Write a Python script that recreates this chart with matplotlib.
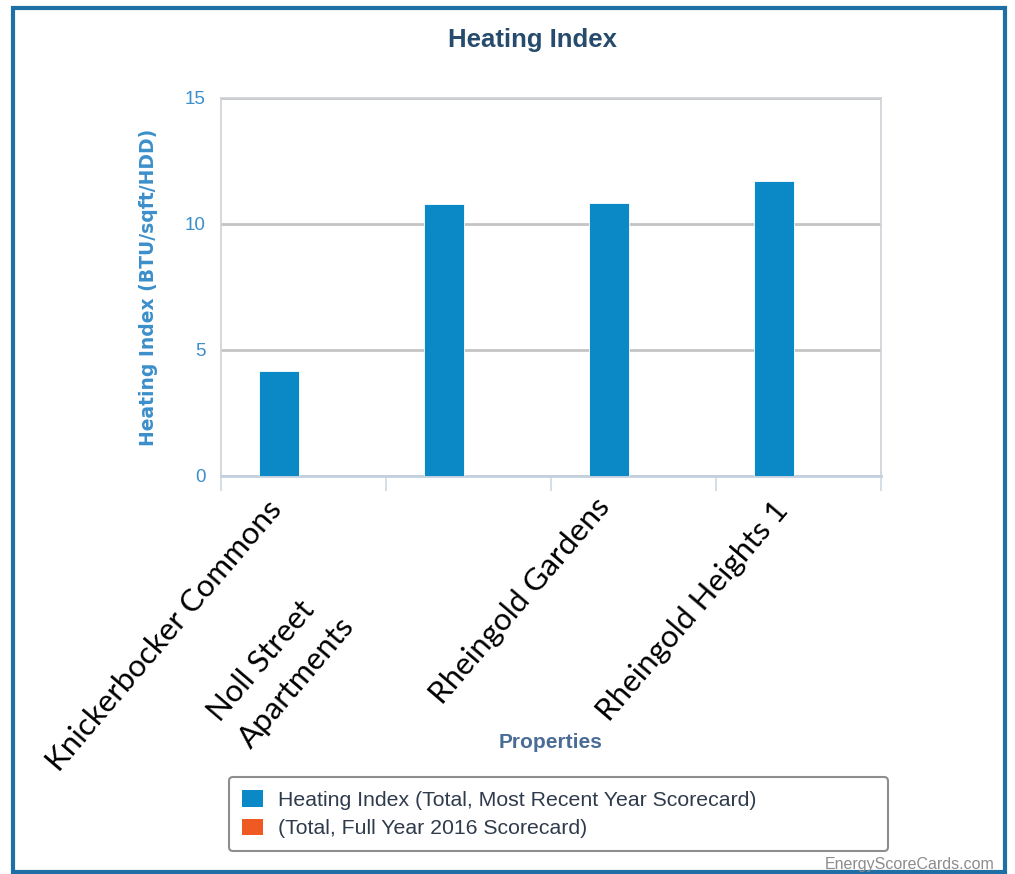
import numpy as np
import matplotlib
matplotlib.use("Agg")
import matplotlib.pyplot as plt
from matplotlib.patches import Rectangle, Patch

# ---- data -------------------------------------------------------------
properties = ["Knickerbocker Commons", "Noll Street\nApartments",
              "Rheingold Gardens", "Rheingold Heights 1"]
recent_year = [4.17, 10.79, 10.84, 11.70]      # BTU/sqft/HDD
full_year_2016 = []                             # no values reported
series_names = ["Heating Index (Total, Most Recent Year Scorecard)",
                "(Total, Full Year 2016 Scorecard)"]
y_ticks = [0, 5, 10, 15]

# ---- styling ----------------------------------------------------------
BLUE = "#0a89c6"
ORANGE = "#ee5a22"
AXIS_BLUE = "#3b8fca"
TITLE_COL = "#274b6d"
FRAME_COL = "#1d6fa6"

W, H = 1015, 874
fig = plt.figure(figsize=(W / 100, H / 100), dpi=100)
fig.patch.set_facecolor("white")


def fx(px):
    return px / W


def fy(py):
    return 1 - py / H


ax = fig.add_axes([fx(221), fy(476), fx(881) - fx(221), fy(98) - fy(476)])

n = len(properties)
x = np.arange(n)
ax.bar(x - 0.15, recent_year, width=0.24, color=BLUE, edgecolor="white",
       linewidth=0.6, zorder=3)
ax.bar(x[:len(full_year_2016)] + 0.15, full_year_2016, width=0.24,
       color=ORANGE, edgecolor="white", linewidth=0.6, zorder=3)

ax.set_xlim(-0.5, n - 0.5)
ax.set_ylim(0, 15)
ax.set_yticks(y_ticks)
ax.yaxis.grid(True, color="#c4c4c4", linewidth=2)
ax.set_axisbelow(True)

# category boundary ticks below the axis
ax.set_xticks(np.arange(n + 1) - 0.5)
ax.set_xticklabels([])
ax.tick_params(axis="x", length=11, width=1.2, color="#cfd8e2",
               direction="out")
ax.tick_params(axis="y", length=0, pad=11, labelcolor=AXIS_BLUE,
               labelsize=13.5)
for lab in ax.get_yticklabels():
    lab.set_family("Liberation Sans")

for side in ("left", "top", "right"):
    ax.spines[side].set_color("#cdd2d8")
    ax.spines[side].set_linewidth(1.2)
ax.spines["bottom"].set_color("#c3d1df")
ax.spines["bottom"].set_linewidth(2)

ax.set_ylabel("Heating Index (BTU/sqft/HDD)", color=AXIS_BLUE,
              fontsize=13.5, fontweight="bold", family="DejaVu Sans")
ax.yaxis.set_label_coords((158 - 221) / 660, 0.5)

# category labels, set at an angle below the plot
ANGLE = 49.5
label_pos = [(283, 510, "right"), (203, 708, "left"),
             (611, 508, "right"), (790, 511, "right")]
for name, (px, py, ha) in zip(properties, label_pos):
    if ha == "right":
        fig.text(fx(px), fy(py), name, rotation=ANGLE,
                 rotation_mode="anchor", ha="right", va="baseline",
                 fontsize=22.5, family="Lato", color="black")
    else:
        fig.text(fx(px), fy(py), name, rotation=ANGLE,
                 rotation_mode="anchor", ha="left", va="top",
                 fontsize=22.5, family="Lato", color="black",
                 multialignment="left", linespacing=1.55)

fig.text(fx(532), fy(40), "Heating Index", ha="center", va="center",
         fontsize=18.5, fontweight="bold", family="Liberation Sans",
         color=TITLE_COL)
fig.text(fx(551), fy(743), "Properties", ha="center", va="center",
         fontsize=15, fontweight="bold", family="Liberation Sans",
         color="#4a6c95")

handles = [Patch(facecolor=BLUE, edgecolor="none"),
           Patch(facecolor=ORANGE, edgecolor="none")]
leg = fig.legend(handles, series_names, loc="upper left",
                 bbox_to_anchor=(fx(229), fy(853), fx(888) - fx(229),
                                 fy(777) - fy(853)),
                 mode="expand", borderaxespad=0, frameon=True, fancybox=True,
                 edgecolor="#8e8e8e", facecolor="white", framealpha=1,
                 prop={"family": "Liberation Sans", "size": 15.3},
                 handlelength=1.0, handleheight=0.85, handletextpad=0.72,
                 labelspacing=0.42, borderpad=0.6)
leg.get_frame().set_linewidth(1.5)
for t in leg.get_texts():
    t.set_color("#2f3b4c")

fig.text(fx(995), fy(865), "EnergyScoreCards.com", ha="right",
         va="center", fontsize=11.5, family="Liberation Sans",
         color="#8c8c8c")

# outer frame
fig.patches.append(Rectangle((fx(13), fy(872)), fx(1005) - fx(13),
                             fy(8) - fy(872), transform=fig.transFigure,
                             fill=False, edgecolor=FRAME_COL, linewidth=3))

fig.savefig("out.png", dpi=100)
